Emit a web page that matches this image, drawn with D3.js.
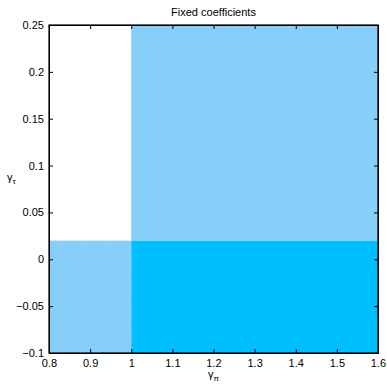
<!DOCTYPE html>
<html>
<head>
<meta charset="utf-8">
<script src="https://cdn.jsdelivr.net/npm/d3@7"></script>
<style>
  body { margin: 0; background: #fff; }
  text { font-family: "Liberation Sans", Arial, sans-serif; fill: #000; }
</style>
</head>
<body>
<div id="chart-area"></div>
<script>
// region edges along each axis
const xEdges = [0.8, 1.0, 1.6]
const yEdges = [-0.1, 0.02, 0.25]
// region class for each cell: rows = y bands (bottom to top), cols = x bands
const cellClass = [
    [1, 2],
    [0, 1]
]
const classColors = ["#ffffff", "#87cefa", "#00bfff"]

const xTicks = [0.8, 0.9, 1.0, 1.1, 1.2, 1.3, 1.4, 1.5, 1.6]
const yTicks = [-0.1, -0.05, 0, 0.05, 0.1, 0.15, 0.2, 0.25]

const MARGIN = { LEFT: 49, RIGHT: 9, TOP: 25, BOTTOM: 34 }
const WIDTH = 387 - MARGIN.LEFT - MARGIN.RIGHT
const HEIGHT = 387 - MARGIN.TOP - MARGIN.BOTTOM

const svg = d3.select("#chart-area").append("svg")
    .attr("width", 387)
    .attr("height", 387)

const g = svg.append("g")
    .attr("transform", `translate(${MARGIN.LEFT},${MARGIN.TOP})`)

const x = d3.scaleLinear().domain([0.8, 1.6]).range([0, WIDTH])
const y = d3.scaleLinear().domain([-0.1, 0.25]).range([HEIGHT, 0])

// build the cells from the edges
const cells = []
cellClass.forEach((row, i) => {
    row.forEach((c, j) => {
        cells.push({ x0: xEdges[j], x1: xEdges[j + 1], y0: yEdges[i], y1: yEdges[i + 1], c: c })
    })
})

g.selectAll("rect.cell")
    .data(cells)
    .enter()
    .append("rect")
    .attr("class", "cell")
    .attr("x", d => x(d.x0))
    .attr("y", d => y(d.y1))
    .attr("width", d => x(d.x1) - x(d.x0))
    .attr("height", d => y(d.y0) - y(d.y1))
    .attr("fill", d => classColors[d.c])

// faint dotted region boundaries
g.append("line")
    .attr("x1", x(xEdges[1])).attr("x2", x(xEdges[1]))
    .attr("y1", 0).attr("y2", HEIGHT)
    .attr("stroke", "#9fc4dc").attr("stroke-opacity", 0.5).attr("stroke-dasharray", "1,2")
g.append("line")
    .attr("x1", 0).attr("x2", WIDTH)
    .attr("y1", y(yEdges[1])).attr("y2", y(yEdges[1]))
    .attr("stroke", "#9fc4dc").attr("stroke-opacity", 0.5).attr("stroke-dasharray", "1,2")

const fmt = d => {
    const s = d3.format("")(+d.toFixed(2))
    return s.replace("-", "\u2013")
}

// bottom and left axes with inward ticks
g.append("g")
    .attr("transform", `translate(0,${HEIGHT})`)
    .call(d3.axisBottom(x).tickValues(xTicks).tickSizeInner(-4).tickSizeOuter(0).tickPadding(6).tickFormat(fmt))
g.append("g")
    .call(d3.axisLeft(y).tickValues(yTicks).tickSizeInner(-4).tickSizeOuter(0).tickPadding(5).tickFormat(fmt))
// top and right axes, ticks only
g.append("g")
    .call(d3.axisTop(x).tickValues(xTicks).tickSizeInner(-4).tickSizeOuter(0).tickFormat(""))
g.append("g")
    .attr("transform", `translate(${WIDTH},0)`)
    .call(d3.axisRight(y).tickValues(yTicks).tickSizeInner(-4).tickSizeOuter(0).tickFormat(""))

svg.selectAll(".domain").attr("stroke", "#000")
svg.selectAll(".tick line").attr("stroke", "#000")
svg.selectAll(".tick text").attr("font-size", "11px").attr("font-family", "Liberation Sans, Arial, sans-serif")

// box
g.append("rect")
    .attr("x", 0).attr("y", 0)
    .attr("width", WIDTH).attr("height", HEIGHT)
    .attr("fill", "none").attr("stroke", "#000").attr("stroke-width", 1.2)

// title
g.append("text")
    .attr("x", WIDTH / 2)
    .attr("y", -9)
    .attr("font-size", "11px")
    .attr("text-anchor", "middle")
    .text("Fixed coefficients")

// x axis label
const xl = g.append("text")
    .attr("x", WIDTH / 2)
    .attr("y", HEIGHT + 25)
    .attr("font-size", "11px")
    .attr("text-anchor", "middle")
xl.append("tspan").text("\u03b3")
xl.append("tspan").attr("font-size", "8px").attr("dy", 3).text("\u03c0")

// y axis label
const yl = svg.append("text")
    .attr("x", 7)
    .attr("y", 181)
    .attr("font-size", "11px")
yl.append("tspan").text("\u03b3")
yl.append("tspan").attr("font-size", "8px").attr("dy", 3).text("\u03c4")
</script>
</body>
</html>
